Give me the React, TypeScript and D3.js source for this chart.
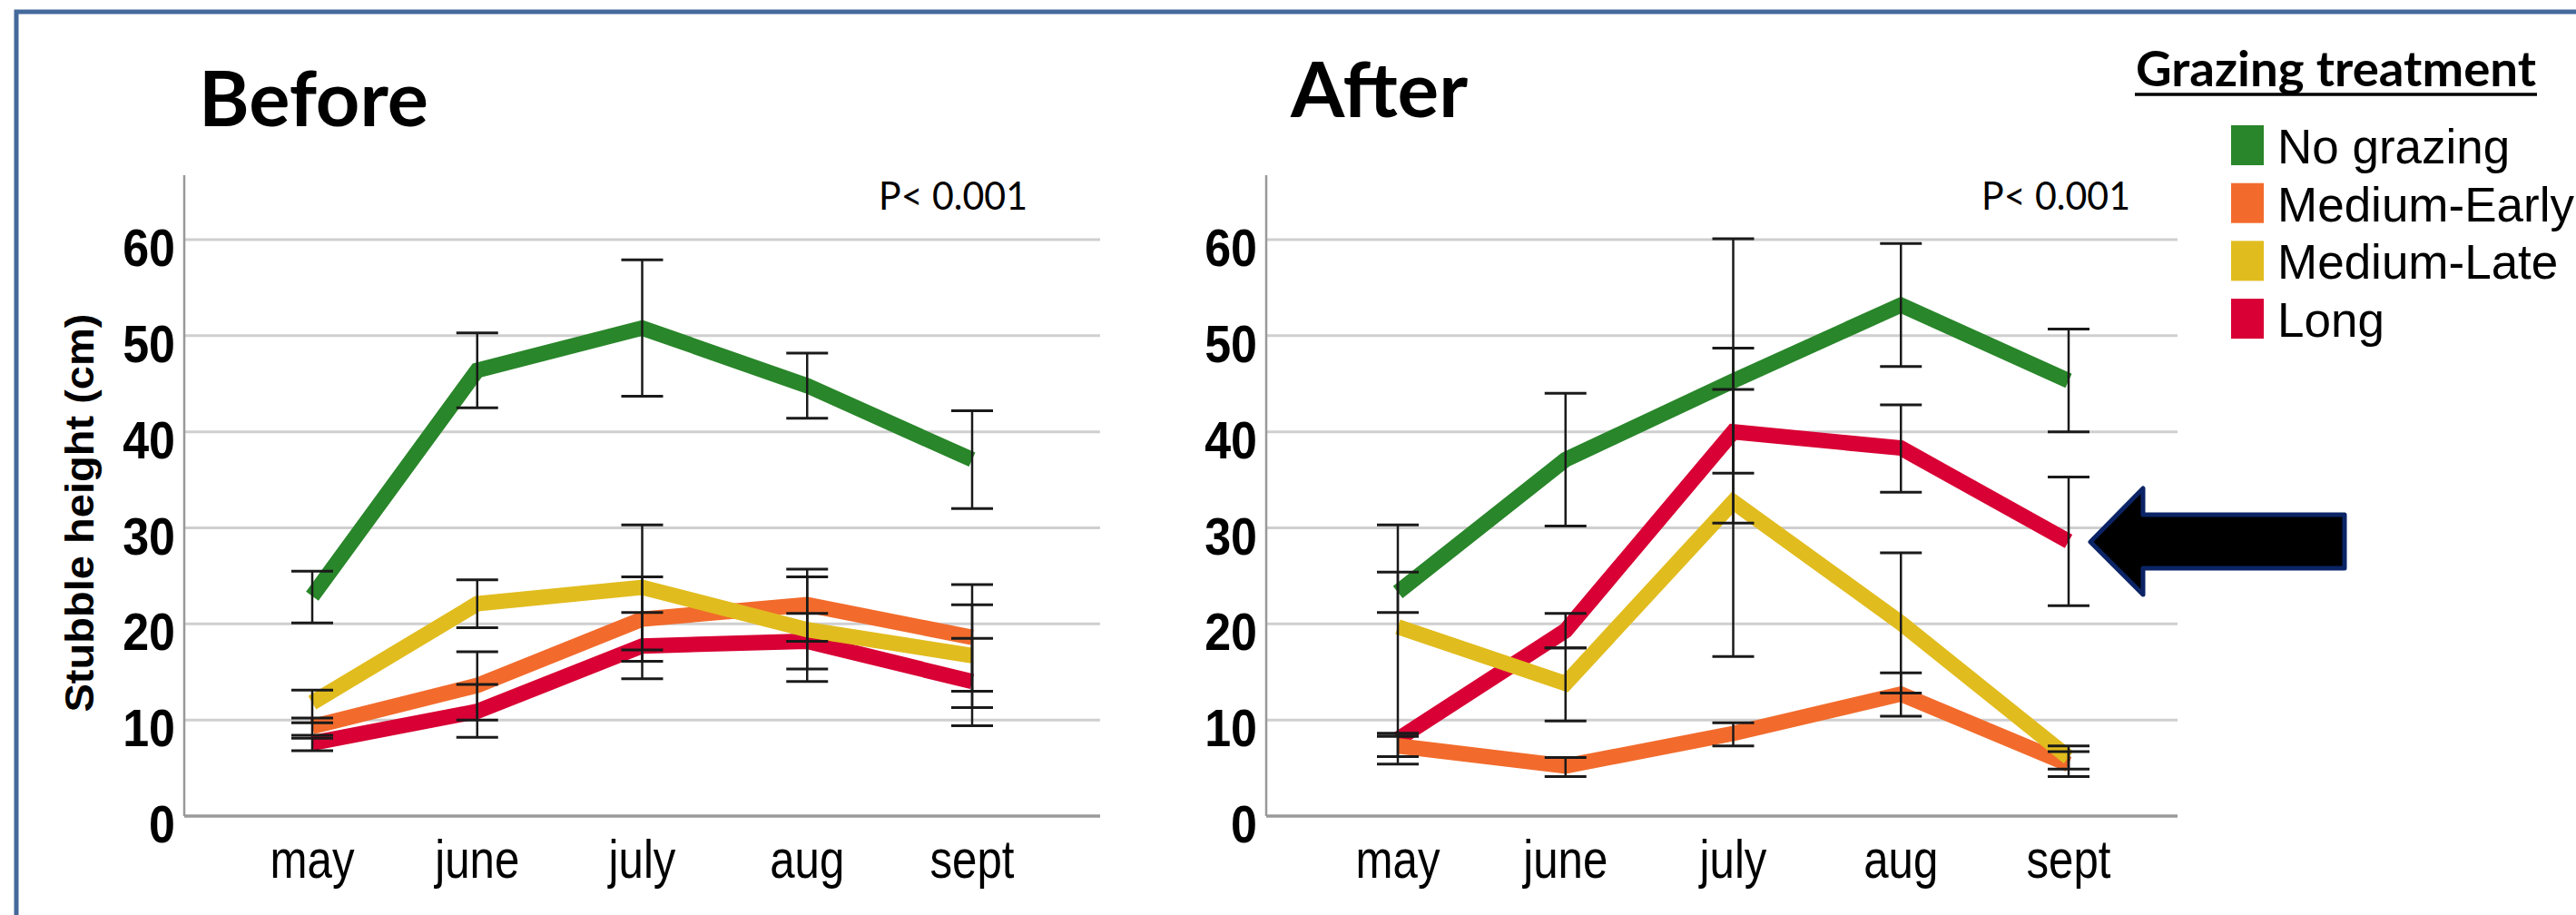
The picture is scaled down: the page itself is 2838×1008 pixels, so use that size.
import React from "react";
import * as d3 from "d3";

const months = ["may", "june", "july", "aug", "sept"];
const yTicks = [0, 10, 20, 30, 40, 50, 60];
const treatments = ["No grazing", "Medium-Early", "Medium-Late", "Long"];
const colors = ["#29862a", "#f26b2c", "#e1bc1e", "#d80034"];

// Before: mean, lower, upper per month
const beforeNoGrazing = [22.9, 46.4, 50.8, 44.8, 37.1];
const beforeNoGrazingLo = [20.1, 42.5, 43.7, 41.4, 32.0];
const beforeNoGrazingHi = [25.5, 50.3, 57.9, 48.2, 42.2];
const beforeMedEarly = [9.3, 13.6, 20.5, 22.0, 18.6];
const beforeMedEarlyLo = [8.4, 10.0, 16.1, 18.2, 13.0];
const beforeMedEarlyHi = [10.2, 17.1, 24.9, 25.7, 24.1];
const beforeMedLate = [11.8, 22.1, 23.8, 19.4, 16.7];
const beforeMedLateLo = [9.7, 19.6, 17.3, 14.0, 11.3];
const beforeMedLateHi = [13.1, 24.6, 30.3, 24.9, 22.0];
const beforeLong = [7.6, 10.9, 17.7, 18.2, 14.0];
const beforeLongLo = [6.8, 8.2, 14.3, 15.3, 9.4];
const beforeLongHi = [8.1, 13.7, 21.2, 21.1, 18.5];

// After
const afterNoGrazing = [23.3, 37.1, 45.3, 53.2, 45.3];
const afterNoGrazingLo = [21.2, 30.2, 30.5, 46.8, 40.0];
const afterNoGrazingHi = [25.4, 44.0, 60.1, 59.6, 50.7];
const afterMedEarly = [7.3, 5.2, 8.6, 12.7, 5.4];
const afterMedEarlyLo = [6.2, 4.1, 7.3, 10.4, 4.1];
const afterMedEarlyHi = [8.3, 6.1, 9.7, 14.9, 6.7];
const afterMedLate = [19.7, 13.8, 32.7, 20.1, 6.1];
const afterMedLateLo = [8.6, 9.9, 16.6, 12.8, 4.9];
const afterMedLateHi = [30.3, 17.5, 48.7, 27.4, 7.3];
const afterLong = [8.0, 19.3, 40.0, 38.3, 28.6];
const afterLongLo = [5.4, 17.5, 35.7, 33.7, 21.9];
const afterLongHi = [8.6, 21.1, 44.4, 42.8, 35.3];

type Series = { mean: number[]; lo: number[]; hi: number[] };

const beforeSeries: Series[] = [
  { mean: beforeNoGrazing, lo: beforeNoGrazingLo, hi: beforeNoGrazingHi },
  { mean: beforeMedEarly, lo: beforeMedEarlyLo, hi: beforeMedEarlyHi },
  { mean: beforeMedLate, lo: beforeMedLateLo, hi: beforeMedLateHi },
  { mean: beforeLong, lo: beforeLongLo, hi: beforeLongHi },
];
const afterSeries: Series[] = [
  { mean: afterNoGrazing, lo: afterNoGrazingLo, hi: afterNoGrazingHi },
  { mean: afterMedEarly, lo: afterMedEarlyLo, hi: afterMedEarlyHi },
  { mean: afterMedLate, lo: afterMedLateLo, hi: afterMedLateHi },
  { mean: afterLong, lo: afterLongLo, hi: afterLongHi },
];

const drawOrder = [3, 1, 2, 0];
const arial = "'Liberation Sans', Arial, sans-serif";
const calibri = "Lato, 'Open Sans', sans-serif";

const y = d3.scaleLinear().domain([0, 60]).range([899, 264]);

interface PanelProps {
  series: Series[];
  axisX: number;
  gridEnd: number;
  firstX: number;
  lastX: number;
  pX: number;
}

function Panel({ series, axisX, gridEnd, firstX, lastX, pX }: PanelProps) {
  const x = d3.scalePoint<string>().domain(months).range([firstX, lastX]);
  const line = d3
    .line<number>()
    .x((_, i) => x(months[i])!)
    .y(d => y(d));
  const capHalf = 23;

  return (
    <g>
      {yTicks.slice(1).map(t => (
        <line key={t} x1={axisX} x2={gridEnd} y1={y(t)} y2={y(t)} stroke="#cfcfcf" strokeWidth={3} />
      ))}
      <line x1={axisX} x2={axisX} y1={193} y2={y(0)} stroke="#999" strokeWidth={2.5} />
      <line x1={axisX} x2={gridEnd} y1={y(0)} y2={y(0)} stroke="#9a9a9a" strokeWidth={3.5} />
      {yTicks.map(t => (
        <text
          key={t}
          transform={`translate(${axisX - 10},${y(t) + 29}) scale(1,1.1)`}
          textAnchor="end"
          fontFamily={arial}
          fontWeight="bold"
          fontSize={52}
        >
          {t}
        </text>
      ))}
      {months.map(m => (
        <text
          key={m}
          transform={`translate(${x(m)},967) scale(0.82,1)`}
          textAnchor="middle"
          fontFamily={arial}
          fontSize={60}
        >
          {m}
        </text>
      ))}
      {drawOrder.map(k => (
        <path
          key={k}
          d={line(series[k].mean) ?? undefined}
          fill="none"
          stroke={colors[k]}
          strokeWidth={17}
          strokeLinecap="butt"
          strokeLinejoin="miter"
        />
      ))}
      {series.map((s, k) =>
        months.map((m, i) => {
          const cx = x(m)!;
          return (
            <g key={`${k}-${m}`} stroke="#1a1a1a">
              <line x1={cx} x2={cx} y1={y(s.lo[i])} y2={y(s.hi[i])} strokeWidth={2.5} />
              <line x1={cx - capHalf} x2={cx + capHalf} y1={y(s.hi[i])} y2={y(s.hi[i])} strokeWidth={3} />
              <line x1={cx - capHalf} x2={cx + capHalf} y1={y(s.lo[i])} y2={y(s.lo[i])} strokeWidth={3} />
            </g>
          );
        }),
      )}
      <text x={pX} y={231} fontFamily={calibri} fontSize={42} textLength={164} lengthAdjust="spacingAndGlyphs">
        P&lt; 0.001
      </text>
    </g>
  );
}

export default function App() {
  return (
    <svg
      width={2838}
      height={1008}
      style={{ position: "absolute", left: 0, top: 0, background: "#fff" }}
    >
      <rect x={0} y={0} width={2838} height={1008} fill="#fff" />
      <rect x={18} y={13} width={3000} height={1200} fill="none" stroke="#44699b" strokeWidth={5} />

      <text x={219} y={139} fontFamily={calibri} fontWeight="bold" fontSize={85} textLength={253} lengthAdjust="spacingAndGlyphs">
        Before
      </text>
      <text x={1422} y={129} fontFamily={calibri} fontWeight="bold" fontSize={85} textLength={195} lengthAdjust="spacingAndGlyphs">
        After
      </text>

      <text
        transform="translate(103,565) rotate(-90)"
        textAnchor="middle"
        fontFamily={arial}
        fontWeight="bold"
        fontSize={44}
        textLength={439}
        lengthAdjust="spacingAndGlyphs"
      >
        Stubble height (cm)
      </text>

      <Panel series={beforeSeries} axisX={203} gridEnd={1212} firstX={344} lastX={1071} pX={968} />
      <Panel series={afterSeries} axisX={1395} gridEnd={2399} firstX={1540} lastX={2279} pX={2183} />

      <path
        d="M2303,597 L2361,538 L2361,567 L2583,567 L2583,626 L2361,626 L2361,655 Z"
        fill="#000"
        stroke="#0b2466"
        strokeWidth={5}
        strokeLinejoin="round"
      />

      <text x={2353} y={95} fontFamily={calibri} fontWeight="bold" fontSize={54} textLength={441} lengthAdjust="spacingAndGlyphs">
        Grazing treatment
      </text>
      <line x1={2352} x2={2795} y1={104} y2={104} stroke="#000" strokeWidth={3.5} />
      {treatments.map((t, i) => {
        const base = 180 + i * 63.7;
        return (
          <g key={t}>
            <rect x={2458} y={base - 42} width={36} height={44} fill={colors[i]} />
            <text x={2509} y={base} fontFamily={arial} fontSize={53}>
              {t}
            </text>
          </g>
        );
      })}
    </svg>
  );
}
